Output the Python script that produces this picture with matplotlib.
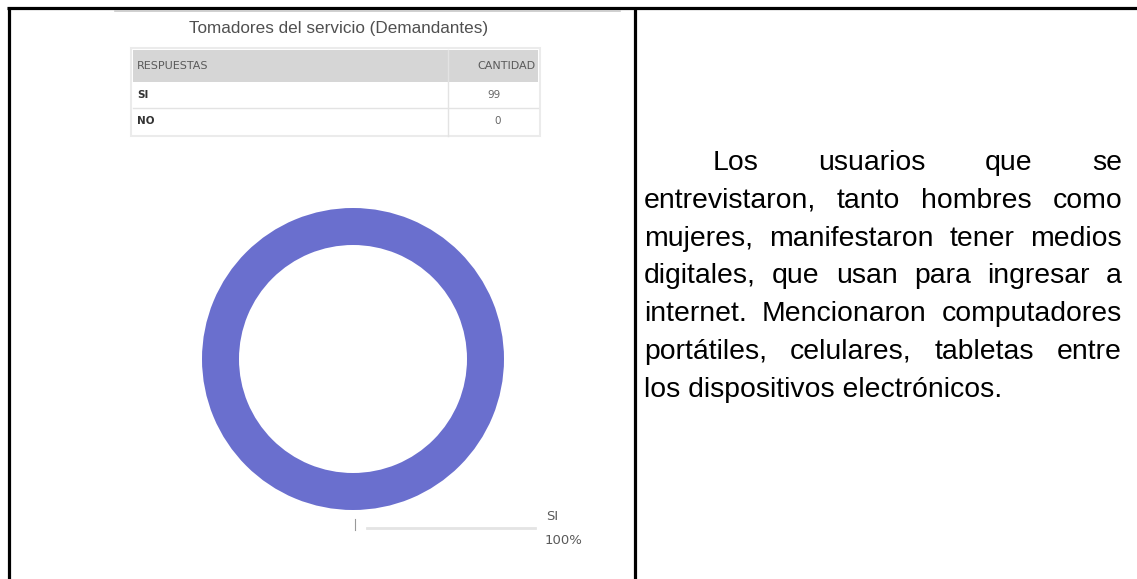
import matplotlib
matplotlib.use("Agg")
from matplotlib import pyplot as plt
from matplotlib.patches import Rectangle

# data
title = "Tomadores del servicio (Demandantes)"
headers = ["RESPUESTAS", "CANTIDAD"]
respuestas = ["SI", "NO"]
cantidad = [99, 0]
donut_color = "#6a6fce"

parrafo = [
    "Los usuarios que se",
    "entrevistaron, tanto hombres como",
    "mujeres, manifestaron tener medios",
    "digitales, que usan para ingresar a",
    "internet. Mencionaron computadores",
    "portátiles, celulares, tabletas entre",
    "los dispositivos electrónicos.",
]

W, H = 1137, 579
fig = plt.figure(figsize=(W / 100, H / 100), dpi=100)

# overlay axes in pixel coords (y down)
ax = fig.add_axes([0, 0, 1, 1])
ax.set_xlim(0, W)
ax.set_ylim(H, 0)
ax.axis("off")

# table borders of the document
ax.plot([7, W], [7.5, 7.5], color="black", lw=2.3, solid_capstyle="butt")
ax.plot([8.5, 8.5], [7, H], color="black", lw=2.3, solid_capstyle="butt")
ax.plot([634.5, 634.5], [7, H], color="black", lw=2.3, solid_capstyle="butt")

# faint edge of the embedded chart image
ax.plot([115, 620], [10.5, 10.5], color="#c8c8c8", lw=1.2)

# chart title
ax.text(339, 28, title, ha="center", va="center", fontsize=12.3,
        color="#505050", family="Liberation Sans")

# small data table
tx0, tx1, tcol = 133, 538, 448
ax.add_patch(Rectangle((tx0, 50), tx1 - tx0, 32, facecolor="#d6d6d6",
                       edgecolor="none"))
ax.add_patch(Rectangle((tx0 - 2, 48), tx1 - tx0 + 4, 88, facecolor="none",
                       edgecolor="#ebebeb", lw=1.5))
ax.text(tx0 + 4, 66, headers[0], ha="left", va="center", fontsize=8,
        color="#5a5a5a", family="DejaVu Sans")
ax.text(tx1 - 2, 66, headers[1], ha="right", va="center", fontsize=8,
        color="#5a5a5a", family="DejaVu Sans")
ax.plot([tcol, tcol], [50, 136], color="#e3e3e3", lw=1)
row_h = 26
for i, (r, c) in enumerate(zip(respuestas, cantidad)):
    yc = 82 + row_h * i + row_h / 2
    if i < len(respuestas) - 1:
        ax.plot([tx0, tx1], [82 + row_h * (i + 1), 82 + row_h * (i + 1)],
                color="#e3e3e3", lw=1)
    ax.text(tx0 + 4, yc, r, ha="left", va="center", fontsize=7.5,
            color="#333333", family="DejaVu Sans", fontweight="bold")
    ax.text(501, yc, str(c), ha="right", va="center", fontsize=7.5,
            color="#666666", family="DejaVu Sans")

# donut
cx, cy, R = 353, 359, 151
pax = fig.add_axes([(cx - R) / W, (H - cy - R) / H, 2 * R / W, 2 * R / H])
pax.pie(cantidad, colors=[donut_color, "#e0a030"], startangle=90,
        counterclock=False, radius=1.0,
        wedgeprops=dict(width=37 / R, edgecolor="none"))
pax.set_xlim(-1, 1)
pax.set_ylim(-1, 1)
pax.axis("off")

# label with leader line
total = sum(cantidad)
pct = cantidad[0] / total * 100
ax.plot([355, 355], [519, 530], color="#999999", lw=0.8)
ax.plot([367, 535], [528, 528], color="#e4e4e4", lw=2)
ax.text(546, 517, respuestas[0], ha="left", va="center", fontsize=9.5,
        color="#5a5a5a", family="DejaVu Sans")
ax.text(545, 541, f"{pct:.0f}%", ha="left", va="center", fontsize=9.5,
        color="#5a5a5a", family="DejaVu Sans")

# justified paragraph on the right
fig.canvas.draw()
renderer = fig.canvas.get_renderer()
left, right = 644, 1122
indent = 713
fs = 20.4
base0, step = 170, 37.8
for i, line in enumerate(parrafo):
    y = base0 + step * i
    x_start = indent if i == 0 else left
    words = line.split()
    if i == len(parrafo) - 1:
        ax.text(x_start, y, line, ha="left", va="baseline", fontsize=fs,
                family="Liberation Sans", color="black")
        continue
    arts = [ax.text(0, y, w, ha="left", va="baseline", fontsize=fs,
                    family="Liberation Sans", color="black") for w in words]
    widths = [a.get_window_extent(renderer).width for a in arts]
    gap = (right - x_start - sum(widths)) / (len(words) - 1)
    x = x_start
    for a, wdt in zip(arts, widths):
        a.set_x(x)
        x += wdt + gap

fig.savefig("out.png", dpi=100)
